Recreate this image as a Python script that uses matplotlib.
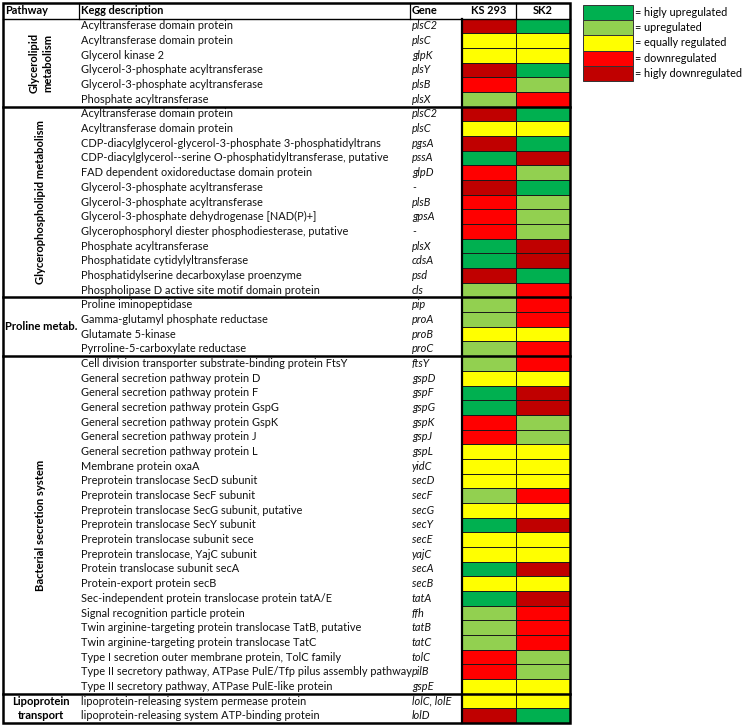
import matplotlib.pyplot as plt
from matplotlib.patches import Rectangle

# level codes: 2 highly up, 1 up, 0 equal, -1 down, -2 highly down
pathways = ['Glycerolipid\nmetabolism', 'Glycerophospholipid metabolism',
            'Proline metab.', 'Bacterial secretion system', 'Lipoprotein\ntransport']
group_sizes = [6, 13, 4, 23, 2]
pathway_rotated = [True, True, False, True, False]

descriptions = [
    'Acyltransferase domain protein',
    'Acyltransferase domain protein',
    'Glycerol kinase 2',
    'Glycerol-3-phosphate acyltransferase',
    'Glycerol-3-phosphate acyltransferase',
    'Phosphate acyltransferase',
    'Acyltransferase domain protein',
    'Acyltransferase domain protein',
    'CDP-diacylglycerol-glycerol-3-phosphate 3-phosphatidyltrans',
    'CDP-diacylglycerol--serine O-phosphatidyltransferase, putative',
    'FAD dependent oxidoreductase domain protein',
    'Glycerol-3-phosphate acyltransferase',
    'Glycerol-3-phosphate acyltransferase',
    'Glycerol-3-phosphate dehydrogenase [NAD(P)+]',
    'Glycerophosphoryl diester phosphodiesterase, putative',
    'Phosphate acyltransferase',
    'Phosphatidate cytidylyltransferase',
    'Phosphatidylserine decarboxylase proenzyme',
    'Phospholipase D active site motif domain protein',
    'Proline iminopeptidase',
    'Gamma-glutamyl phosphate reductase',
    'Glutamate 5-kinase',
    'Pyrroline-5-carboxylate reductase',
    'Cell division transporter substrate-binding protein FtsY',
    'General secretion pathway protein D',
    'General secretion pathway protein F',
    'General secretion pathway protein GspG',
    'General secretion pathway protein GspK',
    'General secretion pathway protein J',
    'General secretion pathway protein L',
    'Membrane protein oxaA',
    'Preprotein translocase SecD subunit',
    'Preprotein translocase SecF subunit',
    'Preprotein translocase SecG subunit, putative',
    'Preprotein translocase SecY subunit',
    'Preprotein translocase subunit sece',
    'Preprotein translocase, YajC subunit',
    'Protein translocase subunit secA',
    'Protein-export protein secB',
    'Sec-independent protein translocase protein tatA/E',
    'Signal recognition particle protein',
    'Twin arginine-targeting protein translocase TatB, putative',
    'Twin arginine-targeting protein translocase TatC',
    'Type I secretion outer membrane protein, TolC family',
    'Type II secretory pathway, ATPase PulE/Tfp pilus assembly pathway',
    'Type II secretory pathway, ATPase PulE-like protein',
    'lipoprotein-releasing system permease protein',
    'lipoprotein-releasing system ATP-binding protein',
]

genes = ['plsC2', 'plsC', 'glpK', 'plsY', 'plsB', 'plsX',
         'plsC2', 'plsC', 'pgsA', 'pssA', 'glpD', '-', 'plsB', 'gpsA', '-',
         'plsX', 'cdsA', 'psd', 'cls',
         'pip', 'proA', 'proB', 'proC',
         'ftsY', 'gspD', 'gspF', 'gspG', 'gspK', 'gspJ', 'gspL', 'yidC',
         'secD', 'secF', 'secG', 'secY', 'secE', 'yajC', 'secA', 'secB',
         'tatA', 'ffh', 'tatB', 'tatC', 'tolC', 'pilB', 'gspE',
         'lolC, lolE', 'lolD']

ks293 = [-2, 0, 0, -2, -1, 1,
         -2, 0, -2, 2, -1, -2, -1, -1, -1, 2, 2, -2, 1,
         1, 1, 0, 1,
         1, 0, 2, 2, -1, -1, 0, 0, 0, 1, 0, 2, 0, 0, 2, 0, 2, 1, 1, 1, -1, -1, 0,
         0, -2]
sk2 = [2, 0, 0, 2, 1, -1,
       2, 0, 2, -2, 1, 2, 1, 1, 1, -2, -2, 2, -1,
       -1, -1, 0, -1,
       -1, 0, -2, -2, 1, 1, 0, 0, 0, -1, 0, -2, 0, 0, -2, 0, -2, -1, -1, -1, 1, 1, 0,
       0, 2]
samples = ['KS 293', 'SK2']

legend_levels = [2, 1, 0, -1, -2]
legend_labels = ['= higly upregulated', '= upregulated', '= equally regulated',
                 '= downregulated', '= higly downregulated']
level_colors = {2: '#00B050', 1: '#92D050', 0: '#FFFF00', -1: '#FF0000', -2: '#C00000'}

plt.rcParams['font.family'] = ['Lato', 'DejaVu Sans']

fig = plt.figure(figsize=(7.43, 7.26), dpi=100)
ax = fig.add_axes([0, 0, 1, 1])
ax.set_xlim(0, 743)
ax.set_ylim(726, 0)
ax.axis('off')

# column edges (pixels)
x_left, x_desc, x_gene, x_ks, x_sk, x_right = 3, 79, 410, 462, 516, 570
top, head_h, row_h = 3, 15.5, 14.68
body_top = top + head_h
n_rows = len(genes)
bottom = body_top + n_rows * row_h
fs = 7.9

# header
for x, t in [(x_left + 2, 'Pathway'), (x_desc + 2, 'Kegg description'), (x_gene + 2, 'Gene')]:
    ax.text(x, top + head_h / 2, t, fontsize=fs, fontweight='bold', va='center', ha='left')
for x0, x1, t in [(x_ks, x_sk, samples[0]), (x_sk, x_right, samples[1])]:
    ax.text((x0 + x1) / 2, top + head_h / 2, t, fontsize=fs, fontweight='bold',
            va='center', ha='center')
for x in [x_desc, x_gene, x_sk]:
    ax.plot([x, x], [top, body_top], color='black', lw=0.9)
ax.plot([x_left, x_right], [body_top, body_top], color='black', lw=1.0)

# rows
for i, (desc, gene, a, b) in enumerate(zip(descriptions, genes, ks293, sk2)):
    yc = body_top + (i + 0.5) * row_h
    ax.text(x_desc + 2, yc, desc, fontsize=fs, va='center', ha='left', color='#111111')
    ax.text(x_gene + 2, yc, gene, fontsize=fs, va='center', ha='left', style='italic',
            color='#111111')
    for x0, x1, v in [(x_ks, x_sk, a), (x_sk, x_right, b)]:
        ax.add_patch(Rectangle((x0, body_top + i * row_h), x1 - x0, row_h,
                               facecolor=level_colors[v], edgecolor='#1a1a1a', lw=0.7))

# pathway groups
start = 0
for name, size, rot in zip(pathways, group_sizes, pathway_rotated):
    y0 = body_top + start * row_h
    y1 = body_top + (start + size) * row_h
    ax.text((x_left + x_desc) / 2, (y0 + y1) / 2, name, fontsize=fs + 0.2, fontweight='bold',
            rotation=90 if rot else 0, va='center', ha='center', linespacing=1.25)
    if start > 0:
        ax.plot([x_left, x_right], [y0, y0], color='black', lw=1.8)
    start += size

# thick vertical line left of the value columns and outer frame
ax.plot([x_ks, x_ks], [body_top, bottom], color='black', lw=1.6)
ax.add_patch(Rectangle((x_left, top), x_right - x_left, bottom - top,
                       fill=False, edgecolor='black', lw=1.8))

# legend
lx, ly, lw_, lh = 583, 5, 50, 15.2
for j, (lev, lab) in enumerate(zip(legend_levels, legend_labels)):
    ax.add_patch(Rectangle((lx, ly + j * lh), lw_, lh, facecolor=level_colors[lev],
                           edgecolor='#333333', lw=0.7))
    ax.text(lx + lw_ + 2, ly + (j + 0.5) * lh, lab, fontsize=7.8, va='center', ha='left')

fig.savefig('out.png', dpi=100)
